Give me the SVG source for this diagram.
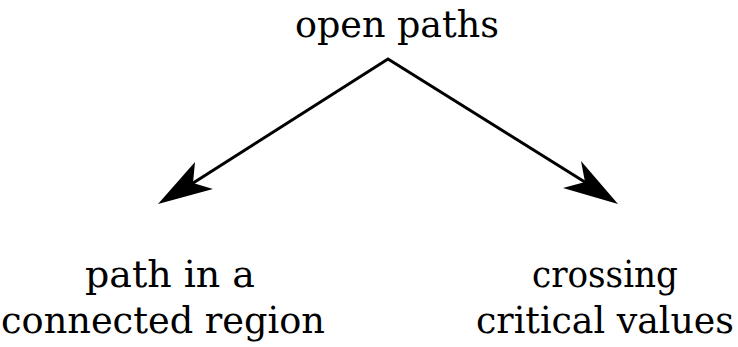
<svg xmlns="http://www.w3.org/2000/svg" width="738" height="347" viewBox="0 0 738 347">
<style>
.edge{stroke:#000;stroke-width:3;fill:none}
.head{fill:#000;stroke:none}
text{font-family:'DejaVu Serif','Liberation Serif',serif;font-size:37px;fill:#000}
</style>
<rect width="738" height="347" fill="#fff"/>
<g id="connectors">
<path class="edge" d="M190,185 L388,59 L588,184"/>
<path class="head" d="M158,204 L195,162 L193,183 L213,189 Z"/>
<path class="head" d="M618,204 L581,161 L585,182 L563,188 Z"/>
</g>
<g id="node-open"><text x="397" y="37" text-anchor="middle" textLength="204" lengthAdjust="spacingAndGlyphs">open paths</text></g>
<g id="node-left">
<text x="170" y="287" text-anchor="middle" textLength="170" lengthAdjust="spacingAndGlyphs">path in a</text>
<text x="163" y="333" text-anchor="middle" textLength="324" lengthAdjust="spacingAndGlyphs">connected region</text>
</g>
<g id="node-right">
<text x="605" y="287" text-anchor="middle" textLength="146" lengthAdjust="spacingAndGlyphs">crossing</text>
<text x="605" y="333" text-anchor="middle" textLength="258" lengthAdjust="spacingAndGlyphs">critical values</text>
</g>
</svg>
